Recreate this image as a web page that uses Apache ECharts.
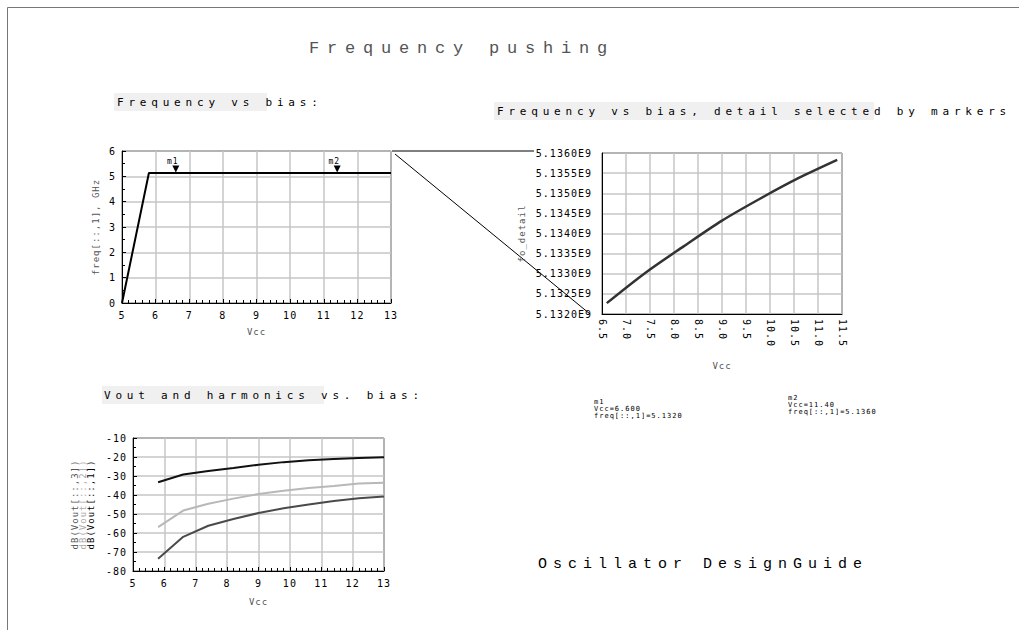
<!DOCTYPE html>
<html><head><meta charset="utf-8">
<script src="https://cdn.jsdelivr.net/npm/echarts@6/dist/echarts.min.js"></script>
<style>
html,body{margin:0;padding:0;background:#fff;}
#c{width:1019px;height:630px;}
#c text[style*="DejaVu Sans Mono"]{letter-spacing:1px;}
#c text[style*="Liberation Mono"]{letter-spacing:7.8px;}
#c text[style*="Liberation Mono"][style*="Liberation Sans"]{letter-spacing:6px;}
#c text[style*="Liberation Mono"][style*="DejaVu"]{letter-spacing:4.8px;}
</style>
</head><body>
<div id="c"></div>
<script>
// ---- data ----
const vcc = [5.0, 5.8, 6.6, 7.4, 8.2, 9.0, 9.8, 10.6, 11.4, 12.2, 13.0];
const freqGHz = [0, 5.1316, 5.13227, 5.13302, 5.13368, 5.13432, 5.13487, 5.13538, 5.13583, 5.1362, 5.1365];
const vout1 = [null, -33.3, -29.2, -27.4, -25.8, -24.1, -22.7, -21.7, -21.0, -20.5, -20.1];
const vout2 = [null, -56.9, -48.2, -44.6, -41.9, -39.5, -37.8, -36.3, -35.2, -34.0, -33.5];
const vout3 = [null, -73.5, -62.0, -56.2, -52.6, -49.5, -47.0, -45.0, -43.2, -41.7, -40.8];
const markerNames = ['m1', 'm2'];
const markerVcc = [6.6, 11.4];
const markerVccText = ['Vcc=6.600', 'Vcc=11.40'];
const markerFreqText = ['freq[::,1]=5.1320', 'freq[::,1]=5.1360'];
const voutNames = ['dB(Vout[::,3])', 'dB(Vout[::,2])', 'dB(Vout[::,1])'];
const titleText = 'Frequency pushing';
const sectionTexts = ['Frequency vs bias:', 'Frequency vs bias, detail selected by markers', 'Vout and harmonics vs. bias:'];
const footerText = 'Oscillator DesignGuide';

// ---- derived series ----
const mainData = vcc.map((v, i) => [v, freqGHz[i]]);
const detailData = vcc.map((v, i) => [v, freqGHz[i] * 1e9]).filter(p => p[0] >= markerVcc[0] && p[0] <= markerVcc[1]);
const markerPoints = markerNames.map((n, i) => {
  const idx = vcc.indexOf(markerVcc[i]);
  return { name: n, coord: [markerVcc[i], freqGHz[idx]] };
});

const FONT = 'DejaVu Sans Mono';
const SECTION_FONT = 'DejaVu Sans Mono, Liberation Mono';
const FOOTER_FONT = 'Liberation Mono, Liberation Sans';
function baseAxis(extra) {
  return Object.assign({
    type: 'value',
    axisLine: { show: true, onZero: false, lineStyle: { color: '#000', width: 1 } },
    axisTick: { show: true, inside: true, length: 4, lineStyle: { color: '#000', width: 1 } },
    splitLine: { show: true, lineStyle: { color: '#c6c6c6', width: 1.5 } },
    axisLabel: { fontFamily: FONT, fontSize: 10, color: '#000' },
    nameLocation: 'middle',
    nameTextStyle: { fontFamily: FONT, fontSize: 9, color: '#555' }
  }, extra);
}
const gridBase = { show: true, borderColor: '#000', borderWidth: 1, backgroundColor: 'rgba(0,0,0,0)' };

const chart = echarts.init(document.getElementById('c'), null, { renderer: 'svg', width: 1019, height: 630 });

const option = {
  animation: false,
  backgroundColor: '#fff',
  grid: [
    Object.assign({ left: 122, top: 151, width: 269, height: 152 }, gridBase),
    Object.assign({ left: 602, top: 153, width: 240, height: 161 }, gridBase),
    Object.assign({ left: 133, top: 438, width: 251, height: 133 }, gridBase)
  ],
  xAxis: [
    baseAxis({ gridIndex: 0, min: 5, max: 13, interval: 1, name: 'Vcc', nameGap: 24,
      minorTick: { show: true, splitNumber: 5, length: 3, lineStyle: { color: '#000' } },
      axisLabel: { fontFamily: FONT, fontSize: 10, color: '#000', margin: 7 } }),
    baseAxis({ gridIndex: 1, min: 6.5, max: 11.5, interval: 0.5, name: 'Vcc', nameGap: 47,
      axisTick: { show: false },
      axisLabel: { fontFamily: FONT, fontSize: 10, color: '#000', rotate: -90, margin: 5,
        formatter: v => v.toFixed(1) } }),
    baseAxis({ gridIndex: 2, min: 5, max: 13, interval: 1, name: 'Vcc', nameGap: 26,
      minorTick: { show: true, splitNumber: 5, length: 3, lineStyle: { color: '#000' } },
      axisLabel: { fontFamily: FONT, fontSize: 10, color: '#000', margin: 7 } })
  ],
  yAxis: [
    baseAxis({ gridIndex: 0, min: 0, max: 6, interval: 1, name: 'freq[::,1], GHz', nameGap: 22,
      minorTick: { show: true, splitNumber: 2, length: 3, lineStyle: { color: '#000' } },
      axisLabel: { fontFamily: FONT, fontSize: 10, color: '#000', margin: 6 } }),
    baseAxis({ gridIndex: 1, min: 5.132e9, max: 5.136e9, interval: 5e5, name: 'fo_detail', nameGap: 76,
      axisTick: { show: false },
      axisLabel: { fontFamily: FONT, fontSize: 10, color: '#000', margin: 10,
        formatter: v => (v / 1e9).toFixed(4) + 'E9' } }),
    baseAxis({ gridIndex: 2, min: -80, max: -10, interval: 10, nameGap: 38,
      name: '{a|' + voutNames[0] + '}\n{b|' + voutNames[1] + '}\n{c|' + voutNames[2] + '}',
      nameTextStyle: { fontFamily: FONT, fontSize: 9, lineHeight: 8,
        rich: { a: { color: '#555', fontFamily: FONT, fontSize: 9, lineHeight: 8 },
                b: { color: '#aaa', fontFamily: FONT, fontSize: 9, lineHeight: 8 },
                c: { color: '#000', fontFamily: FONT, fontSize: 9, lineHeight: 8 } } },
      minorTick: { show: true, splitNumber: 2, length: 3, lineStyle: { color: '#000' } },
      axisLabel: { fontFamily: FONT, fontSize: 10, color: '#000', margin: 6 } })
  ],
  series: [
    { type: 'line', xAxisIndex: 0, yAxisIndex: 0, data: mainData, showSymbol: false,
      lineStyle: { color: '#000', width: 2 }, itemStyle: { color: '#000' },
      markPoint: { symbol: 'triangle', symbolRotate: 180, symbolSize: [7, 7], symbolOffset: [0, -4],
        itemStyle: { color: '#000' },
        label: { show: true, position: 'top', distance: 0, offset: [-3, 0], formatter: p => p.name,
          fontFamily: FONT, fontSize: 8, color: '#000' },
        data: markerPoints } },
    { type: 'line', xAxisIndex: 1, yAxisIndex: 1, data: detailData, showSymbol: false, smooth: 0.3,
      lineStyle: { color: '#333', width: 2.5 } },
    { type: 'line', xAxisIndex: 2, yAxisIndex: 2, name: voutNames[2], data: vcc.map((v, i) => [v, vout1[i]]),
      showSymbol: false, lineStyle: { color: '#111', width: 2 } },
    { type: 'line', xAxisIndex: 2, yAxisIndex: 2, name: voutNames[1], data: vcc.map((v, i) => [v, vout2[i]]),
      showSymbol: false, lineStyle: { color: '#b8b8b8', width: 2 } },
    { type: 'line', xAxisIndex: 2, yAxisIndex: 2, name: voutNames[0], data: vcc.map((v, i) => [v, vout3[i]]),
      showSymbol: false, lineStyle: { color: '#4a4a4a', width: 2 } }
  ],
  graphic: { elements: [
    { type: 'rect', silent: true, shape: { x: 7.5, y: 7.5, width: 1100, height: 700 },
      style: { fill: 'none', stroke: '#777', lineWidth: 1 } },
    { type: 'rect', silent: true, shape: { x: 114, y: 93, width: 153, height: 18 }, style: { fill: '#f0f0f0' } },
    { type: 'rect', silent: true, shape: { x: 494, y: 102, width: 380, height: 18 }, style: { fill: '#f0f0f0' } },
    { type: 'rect', silent: true, shape: { x: 102, y: 386, width: 222, height: 18 }, style: { fill: '#f0f0f0' } },
    { type: 'text', silent: true, x: 462, y: 48,
      style: { text: titleText, fontFamily: 'Liberation Mono', fontSize: 17, fill: '#555',
        textAlign: 'center', textVerticalAlign: 'middle' } },
    { type: 'text', silent: true, x: 117, y: 102,
      style: { text: sectionTexts[0], fontFamily: SECTION_FONT, fontSize: 11, fill: '#000',
        textAlign: 'left', textVerticalAlign: 'middle' } },
    { type: 'text', silent: true, x: 497, y: 111,
      style: { text: sectionTexts[1], fontFamily: SECTION_FONT, fontSize: 11, fill: '#000',
        textAlign: 'left', textVerticalAlign: 'middle' } },
    { type: 'text', silent: true, x: 104, y: 395,
      style: { text: sectionTexts[2], fontFamily: SECTION_FONT, fontSize: 11, fill: '#000',
        textAlign: 'left', textVerticalAlign: 'middle' } },
    { type: 'text', silent: true, x: 538, y: 564,
      style: { text: footerText, fontFamily: FOOTER_FONT, fontSize: 15, fill: '#000',
        textAlign: 'left', textVerticalAlign: 'middle' } },
    { type: 'text', silent: true, x: 594, y: 398,
      style: { text: [markerNames[0], markerVccText[0], markerFreqText[0]].join('\n'), fontFamily: FONT,
        fontSize: 7, lineHeight: 7, fill: '#000', textAlign: 'left', textVerticalAlign: 'top' } },
    { type: 'text', silent: true, x: 788, y: 394,
      style: { text: [markerNames[1], markerVccText[1], markerFreqText[1]].join('\n'), fontFamily: FONT,
        fontSize: 7, lineHeight: 7, fill: '#000', textAlign: 'left', textVerticalAlign: 'top' } }
  ] }
};
chart.setOption(option);

// connector lines from the main plot to the detail plot
const p1 = chart.convertToPixel({ xAxisIndex: 0, yAxisIndex: 0 }, [13, 6]);
const p2t = chart.convertToPixel({ xAxisIndex: 1, yAxisIndex: 1 }, [6.5, 5.136e9]);
const p2b = chart.convertToPixel({ xAxisIndex: 1, yAxisIndex: 1 }, [6.5, 5.132e9]);
chart.setOption({ graphic: { elements: [
  { id: 'conn1', type: 'line', silent: true, shape: { x1: p1[0] + 1, y1: p1[1], x2: p2t[0] - 68, y2: p1[1] },
    style: { stroke: '#000', lineWidth: 1 } },
  { id: 'conn2', type: 'line', silent: true, shape: { x1: p1[0] + 4, y1: p1[1] + 3, x2: p2b[0] - 12, y2: p2b[1] },
    style: { stroke: '#000', lineWidth: 1 } }
] } });
</script>
</body></html>
